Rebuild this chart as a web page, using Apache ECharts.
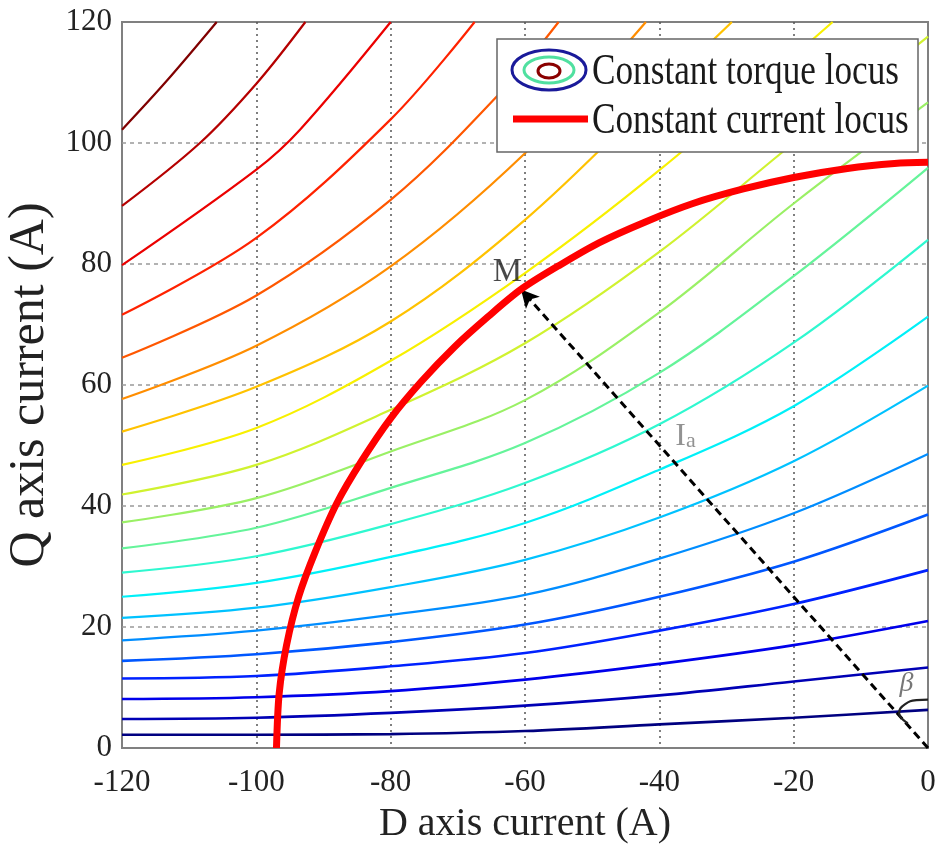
<!DOCTYPE html>
<html><head><meta charset="utf-8">
<script src="https://cdn.jsdelivr.net/npm/echarts@6/dist/echarts.min.js"></script>
<style>html,body{margin:0;padding:0;background:#fff}#c{width:936px;height:847px}</style>
</head><body><div id="c"></div>
<script>
// Axis ranges and tick step
const dRange = [-120, 0];
const qRange = [0, 120];
const tickStep = 20;

// Constant torque loci, bottom (low torque) to top-left (high torque)
const torque01 = [[-120,2.2],[-100,2.2],[-80,2.3],[-60,2.8],[-40,3.9],[-20,5.0],[0,6.3]];
const torque02 = [[-120,4.8],[-100,5.0],[-80,5.8],[-60,7.0],[-40,8.7],[-20,11.0],[0,13.3]];
const torque03 = [[-120,8.1],[-100,8.4],[-80,9.4],[-60,11.3],[-40,13.9],[-20,17.0],[0,21.0]];
const torque04 = [[-120,11.5],[-100,11.9],[-80,13.5],[-60,15.7],[-40,19.4],[-20,23.8],[0,29.4]];
const torque05 = [[-120,14.4],[-100,15.5],[-80,17.5],[-60,20.4],[-40,25.0],[-20,30.8],[0,38.6]];
const torque06 = [[-120,17.8],[-100,19.4],[-80,22.0],[-60,25.3],[-40,31.3],[-20,38.8],[0,48.6]];
const torque07 = [[-120,21.5],[-100,23.2],[-80,26.6],[-60,31.1],[-40,38.1],[-20,47.4],[0,59.9]];
const torque08 = [[-120,25.0],[-100,27.3],[-80,31.6],[-60,37.2],[-40,46.0],[-20,56.5],[0,71.3]];
const torque09 = [[-120,29.0],[-100,31.7],[-80,37.0],[-60,43.8],[-40,53.5],[-20,67.0],[0,84.0]];
const torque10 = [[-120,33.0],[-100,36.4],[-80,43.0],[-60,50.4],[-40,62.0],[-20,78.0],[0,95.9]];
const torque11 = [[-120,37.3],[-100,41.3],[-80,49.0],[-60,57.5],[-40,72.0],[-20,90.0],[0,106.7]];
const torque12 = [[-120,41.9],[-100,46.8],[-80,55.9],[-60,66.9],[-40,82.0],[-20,100.0],[0,117.6]];
const torque13 = [[-120,46.8],[-100,52.9],[-80,64.0],[-60,78.5],[-40,95.5],[-14.2,120]];
const torque14 = [[-120,52.3],[-100,59.7],[-80,70.5],[-60,87.3],[-40,108.5],[-29.2,120]];
const torque15 = [[-120,57.7],[-100,66.5],[-80,79.6],[-60,98.3],[-42,120]];
const torque16 = [[-120,64.5],[-100,74.8],[-80,90.6],[-64.2,107.7],[-55,120]];
const torque17 = [[-120,71.6],[-100,84.3],[-80,103.9],[-67.5,120]];
const torque18 = [[-120,79.8],[-100,95.6],[-93.5,102.2],[-80,120]];
const torque19 = [[-120,89.6],[-108.4,100],[-100,109.8],[-92.7,120]];
const torque20 = [[-120,102.2],[-113.4,110.2],[-105.9,120]];

// Constant current locus
const currentLocus = [[-97.0,0],[-96.6,9],[-95.5,17],[-93.7,25],[-91.2,32.5],[-88.0,40.5],[-84.3,47.5],[-80.0,54.5],
  [-75.5,60.5],[-70.5,66.3],[-65.5,71.3],[-60.6,75.8],[-55.0,79.7],[-49.0,83.5],[-42.0,87.0],[-35.0,90.0],
  [-27.5,92.4],[-20.0,94.3],[-12.0,95.8],[-5.0,96.6],[0,96.8]];

// Current vector Ia from origin to M, angle arc and text anchors
const vectorIa = [[0,0],[-60.6,75.8]];
const betaArc = [[-3.0,4.1],[-4.3,5.8],[-3.45,7.2],[-1.7,7.9],[0,8.0]];
const anchorM = [-62.6,78.6];
const anchorIa = [-36.1,51.5];
const anchorBeta = [-3.2,10.6];

const torqueLoci = [torque01,torque02,torque03,torque04,torque05,torque06,torque07,torque08,torque09,torque10,
  torque11,torque12,torque13,torque14,torque15,torque16,torque17,torque18,torque19,torque20];

// jet-like palette (style only)
const jetPalette = ['#000080','#0000B5','#0000EB','#0022FF','#0057FF','#008DFF','#00C2FF','#00F0F8','#2FF8D0','#65F49A',
  '#9AF065','#D0F22F','#F8F000','#FFC200','#FF8D00','#FF5700','#FF2200','#EB0000','#B50000','#800000'];

const FONT = '"Liberation Serif", "Times New Roman", serif';

const series = torqueLoci.map((d, i) => ({
  type: 'line', data: d, smooth: 0.35, showSymbol: false, silent: true, z: 2,
  lineStyle: { width: i < 5 ? 2.6 : 2.2, color: jetPalette[i] }
}));

series.push({
  type: 'line', data: currentLocus, smooth: 0.3, showSymbol: false, silent: true, z: 5,
  lineStyle: { width: 7, color: '#FF0000' }
});

series.push({
  type: 'line', data: [], silent: true, z: 6,
  markLine: {
    silent: true, animation: false, symbol: ['none', 'arrow'], symbolSize: [14, 18],
    label: { show: false },
    lineStyle: { color: '#000', width: 3, type: [8, 5] },
    data: [[{ coord: vectorIa[0] }, { coord: vectorIa[1] }]]
  }
});

series.push({
  type: 'line', data: betaArc, smooth: 0.5, showSymbol: false, silent: true, z: 6,
  lineStyle: { width: 2.2, color: '#222' }
});

function textPoint(pt, label) {
  return {
    type: 'scatter', data: [pt], symbolSize: 1, itemStyle: { color: 'rgba(0,0,0,0)' }, silent: true, z: 7,
    label: Object.assign({ show: true, position: 'inside' }, label)
  };
}
series.push(textPoint(anchorM, { formatter: 'M', fontFamily: FONT, fontSize: 33, color: '#1a1a1a' }));
series.push(textPoint(anchorIa, {
  formatter: '{i|I}{s|a}',
  rich: {
    i: { fontFamily: FONT, fontSize: 32, color: '#777' },
    s: { fontFamily: FONT, fontSize: 22, color: '#777', padding: [10, 0, 0, 0] }
  }
}));
series.push(textPoint(anchorBeta, { formatter: 'β', fontFamily: FONT, fontStyle: 'italic', fontSize: 28, color: '#555' }));

const chart = echarts.init(document.getElementById('c'), null, { renderer: 'canvas' });
chart.setOption({
  animation: false,
  backgroundColor: '#fff',
  grid: { left: 122, right: 8, top: 22, bottom: 99, containLabel: false, outerBoundsMode: 'none',
    show: true, borderColor: '#808080', borderWidth: 2, backgroundColor: 'transparent' },
  xAxis: {
    type: 'value', min: dRange[0], max: dRange[1], interval: tickStep,
    name: 'D axis current (A)', nameLocation: 'middle', nameGap: 56,
    nameTextStyle: { fontFamily: FONT, fontSize: 40, color: '#222' },
    axisLine: { show: false }, axisTick: { show: false },
    axisLabel: { fontFamily: FONT, fontSize: 31, color: '#222', margin: 19 },
    splitLine: { show: true, showMinLine: false, showMaxLine: false, lineStyle: { color: '#555', width: 1.5, type: [2, 4] } }
  },
  yAxis: {
    type: 'value', min: qRange[0], max: qRange[1], interval: tickStep,
    name: 'Q axis current (A)', nameLocation: 'middle', nameGap: 62, nameRotate: 90,
    nameTextStyle: { fontFamily: FONT, fontSize: 50, color: '#222' },
    axisLine: { show: false }, axisTick: { show: false },
    axisLabel: { fontFamily: FONT, fontSize: 31, color: '#222', margin: 10 },
    splitLine: { show: true, showMinLine: false, showMaxLine: false, lineStyle: { color: '#999', width: 1.5, type: [4, 4] } }
  },
  graphic: [
    { type: 'rect', shape: { x: 497, y: 39, width: 421, height: 113 }, style: { fill: '#fff', stroke: '#666', lineWidth: 1.5 }, z: 100 },
    { type: 'ellipse', shape: { cx: 549, cy: 70, rx: 37, ry: 20 }, style: { fill: 'none', stroke: '#1a1a9a', lineWidth: 3 }, z: 101 },
    { type: 'ellipse', shape: { cx: 549, cy: 70, rx: 25, ry: 13 }, style: { fill: 'none', stroke: '#50e0a0', lineWidth: 3 }, z: 101 },
    { type: 'ellipse', shape: { cx: 549, cy: 71, rx: 11, ry: 7 }, style: { fill: 'none', stroke: '#8a0000', lineWidth: 3 }, z: 101 },
    { type: 'line', shape: { x1: 513, y1: 119, x2: 588, y2: 119 }, style: { stroke: '#FF0000', lineWidth: 7 }, z: 101 },
    { type: 'text', x: 592, y: 72, scaleX: 0.8, style: { text: 'Constant torque locus', font: '44px ' + FONT, fill: '#1a1a1a', textVerticalAlign: 'middle' }, z: 101 },
    { type: 'text', x: 592, y: 121, scaleX: 0.8, style: { text: 'Constant current locus', font: '44px ' + FONT, fill: '#1a1a1a', textVerticalAlign: 'middle' }, z: 101 }
  ],
  series: series
});
</script></body></html>
